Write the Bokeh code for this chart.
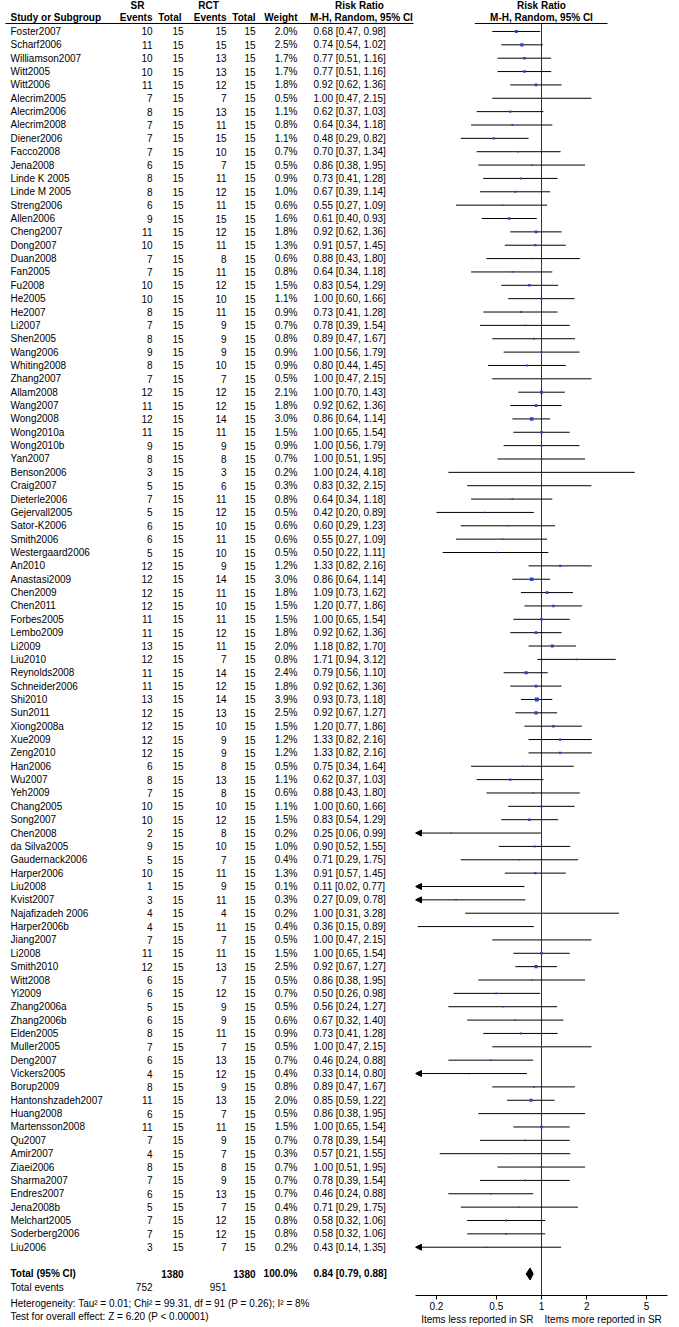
import numpy as np
from bokeh.plotting import figure
from bokeh.layouts import row
from bokeh.models import (Range1d, ColumnDataSource, FixedTicker, CustomJSTickFormatter,
                          Arrow, NormalHead, Title)
from bokeh.core.properties import value
from bokeh.embed import file_html
from bokeh.resources import INLINE

# ---------------- data ----------------
studies = ["Foster2007", "Scharf2006", "Williamson2007", "Witt2005", "Witt2006", "Alecrim2005",
           "Alecrim2006", "Alecrim2008", "Diener2006", "Facco2008", "Jena2008", "Linde K 2005",
           "Linde M 2005", "Streng2006", "Allen2006", "Cheng2007", "Dong2007", "Duan2008",
           "Fan2005", "Fu2008", "He2005", "He2007", "Li2007", "Shen2005", "Wang2006",
           "Whiting2008", "Zhang2007", "Allam2008", "Wang2007", "Wong2008", "Wong2010a",
           "Wong2010b", "Yan2007", "Benson2006", "Craig2007", "Dieterle2006", "Gejervall2005",
           "Sator-K2006", "Smith2006", "Westergaard2006", "An2010", "Anastasi2009", "Chen2009",
           "Chen2011", "Forbes2005", "Lembo2009", "Li2009", "Liu2010", "Reynolds2008",
           "Schneider2006", "Shi2010", "Sun2011", "Xiong2008a", "Xue2009", "Zeng2010", "Han2006",
           "Wu2007", "Yeh2009", "Chang2005", "Song2007", "Chen2008", "da Silva2005",
           "Gaudernack2006", "Harper2006", "Liu2008", "Kvist2007", "Najafizadeh 2006",
           "Harper2006b", "Jiang2007", "Li2008", "Smith2010", "Witt2008", "Yi2009", "Zhang2006a",
           "Zhang2006b", "Elden2005", "Muller2005", "Deng2007", "Vickers2005", "Borup2009",
           "Hantonshzadeh2007", "Huang2008", "Martensson2008", "Qu2007", "Amir2007", "Ziaei2006",
           "Sharma2007", "Endres2007", "Jena2008b", "Melchart2005", "Soderberg2006", "Liu2006"]

sr_events = [10, 11, 10, 10, 11, 7, 8, 7, 7, 7,
             6, 8, 8, 6, 9, 11, 10, 7, 7, 10,
             10, 8, 7, 8, 9, 8, 7, 12, 11, 12,
             11, 9, 8, 3, 5, 7, 5, 6, 6, 5,
             12, 12, 12, 12, 11, 11, 13, 12, 11, 11,
             13, 12, 12, 12, 12, 6, 8, 7, 10, 10,
             2, 9, 5, 10, 1, 3, 4, 4, 7, 11,
             12, 6, 6, 5, 6, 8, 7, 6, 4, 8,
             11, 6, 11, 7, 4, 8, 7, 6, 5, 7, 7, 3]
sr_total = [15, 15, 15, 15, 15, 15, 15, 15, 15, 15,
            15, 15, 15, 15, 15, 15, 15, 15, 15, 15,
            15, 15, 15, 15, 15, 15, 15, 15, 15, 15,
            15, 15, 15, 15, 15, 15, 15, 15, 15, 15,
            15, 15, 15, 15, 15, 15, 15, 15, 15, 15,
            15, 15, 15, 15, 15, 15, 15, 15, 15, 15,
            15, 15, 15, 15, 15, 15, 15, 15, 15, 15,
            15, 15, 15, 15, 15, 15, 15, 15, 15, 15,
            15, 15, 15, 15, 15, 15, 15, 15, 15, 15, 15, 15]
rct_events = [15, 15, 13, 13, 12, 7, 13, 11, 15, 10,
              7, 11, 12, 11, 15, 12, 11, 8, 11, 12,
              10, 11, 9, 9, 9, 10, 7, 12, 12, 14,
              11, 9, 8, 3, 6, 11, 12, 10, 11, 10,
              9, 14, 11, 10, 11, 12, 11, 7, 14, 12,
              14, 13, 10, 9, 9, 8, 13, 8, 10, 12,
              8, 10, 7, 11, 9, 11, 4, 11, 7, 11,
              13, 7, 12, 9, 9, 11, 7, 13, 12, 9,
              13, 7, 11, 9, 7, 8, 9, 13, 7, 12, 12, 7]
rct_total = [15, 15, 15, 15, 15, 15, 15, 15, 15, 15,
             15, 15, 15, 15, 15, 15, 15, 15, 15, 15,
             15, 15, 15, 15, 15, 15, 15, 15, 15, 15,
             15, 15, 15, 15, 15, 15, 15, 15, 15, 15,
             15, 15, 15, 15, 15, 15, 15, 15, 15, 15,
             15, 15, 15, 15, 15, 15, 15, 15, 15, 15,
             15, 15, 15, 15, 15, 15, 15, 15, 15, 15,
             15, 15, 15, 15, 15, 15, 15, 15, 15, 15,
             15, 15, 15, 15, 15, 15, 15, 15, 15, 15, 15, 15]
weight_pct = [2.0, 2.5, 1.7, 1.7, 1.8, 0.5, 1.1, 0.8, 1.1, 0.7,
              0.5, 0.9, 1.0, 0.6, 1.6, 1.8, 1.3, 0.6, 0.8, 1.5,
              1.1, 0.9, 0.7, 0.8, 0.9, 0.9, 0.5, 2.1, 1.8, 3.0,
              1.5, 0.9, 0.7, 0.2, 0.3, 0.8, 0.5, 0.6, 0.6, 0.5,
              1.2, 3.0, 1.8, 1.5, 1.5, 1.8, 2.0, 0.8, 2.4, 1.8,
              3.9, 2.5, 1.5, 1.2, 1.2, 0.5, 1.1, 0.6, 1.1, 1.5,
              0.2, 1.0, 0.4, 1.3, 0.1, 0.3, 0.2, 0.4, 0.5, 1.5,
              2.5, 0.5, 0.7, 0.5, 0.6, 0.9, 0.5, 0.7, 0.4, 0.8,
              2.0, 0.5, 1.5, 0.7, 0.3, 0.7, 0.7, 0.7, 0.4, 0.8, 0.8, 0.2]
risk_ratio = [0.68, 0.74, 0.77, 0.77, 0.92, 1.00, 0.62, 0.64, 0.48, 0.70,
              0.86, 0.73, 0.67, 0.55, 0.61, 0.92, 0.91, 0.88, 0.64, 0.83,
              1.00, 0.73, 0.78, 0.89, 1.00, 0.80, 1.00, 1.00, 0.92, 0.86,
              1.00, 1.00, 1.00, 1.00, 0.83, 0.64, 0.42, 0.60, 0.55, 0.50,
              1.33, 0.86, 1.09, 1.20, 1.00, 0.92, 1.18, 1.71, 0.79, 0.92,
              0.93, 0.92, 1.20, 1.33, 1.33, 0.75, 0.62, 0.88, 1.00, 0.83,
              0.25, 0.90, 0.71, 0.91, 0.11, 0.27, 1.00, 0.36, 1.00, 1.00,
              0.92, 0.86, 0.50, 0.56, 0.67, 0.73, 1.00, 0.46, 0.33, 0.89,
              0.85, 0.86, 1.00, 0.78, 0.57, 1.00, 0.78, 0.46, 0.71, 0.58, 0.58, 0.43]
ci_lower = [0.47, 0.54, 0.51, 0.51, 0.62, 0.47, 0.37, 0.34, 0.29, 0.37,
            0.38, 0.41, 0.39, 0.27, 0.40, 0.62, 0.57, 0.43, 0.34, 0.54,
            0.60, 0.41, 0.39, 0.47, 0.56, 0.44, 0.47, 0.70, 0.62, 0.64,
            0.65, 0.56, 0.51, 0.24, 0.32, 0.34, 0.20, 0.29, 0.27, 0.22,
            0.82, 0.64, 0.73, 0.77, 0.65, 0.62, 0.82, 0.94, 0.56, 0.62,
            0.73, 0.67, 0.77, 0.82, 0.82, 0.34, 0.37, 0.43, 0.60, 0.54,
            0.06, 0.52, 0.29, 0.57, 0.02, 0.09, 0.31, 0.15, 0.47, 0.65,
            0.67, 0.38, 0.26, 0.24, 0.32, 0.41, 0.47, 0.24, 0.14, 0.47,
            0.59, 0.38, 0.65, 0.39, 0.21, 0.51, 0.39, 0.24, 0.29, 0.32, 0.32, 0.14]
ci_upper = [0.98, 1.02, 1.16, 1.16, 1.36, 2.15, 1.03, 1.18, 0.82, 1.34,
            1.95, 1.28, 1.14, 1.09, 0.93, 1.36, 1.45, 1.80, 1.18, 1.29,
            1.66, 1.28, 1.54, 1.67, 1.79, 1.45, 2.15, 1.43, 1.36, 1.14,
            1.54, 1.79, 1.95, 4.18, 2.15, 1.18, 0.89, 1.23, 1.09, 1.11,
            2.16, 1.14, 1.62, 1.86, 1.54, 1.36, 1.70, 3.12, 1.10, 1.36,
            1.18, 1.27, 1.86, 2.16, 2.16, 1.64, 1.03, 1.80, 1.66, 1.29,
            0.99, 1.55, 1.75, 1.45, 0.77, 0.78, 3.28, 0.89, 2.15, 1.54,
            1.27, 1.95, 0.98, 1.27, 1.40, 1.28, 2.15, 0.88, 0.80, 1.67,
            1.22, 1.95, 1.54, 1.54, 1.55, 1.95, 1.54, 0.88, 1.75, 1.06, 1.06, 1.35]

total_sr = 1380
total_rct = 1380
total_weight = 100.0
pooled_rr = 0.84
pooled_lower = 0.79
pooled_upper = 0.88
events_sr = 752
events_rct = 951
heterogeneity_text = "Heterogeneity: Tau\u00b2 = 0.01; Chi\u00b2 = 99.31, df = 91 (P = 0.26); I\u00b2 = 8%"
overall_text = "Test for overall effect: Z = 6.20 (P < 0.00001)"
axis_ticks = [0.2, 0.5, 1, 2, 5]
favours_left = "Items less reported in SR"
favours_right = "Items more reported in SR"
null_value = 1.0

# ---------------- layout (page pixels) ----------------
PAGE_W, PAGE_H = 679, 1327
LEFT_W = 415
H1_Y, H2_Y, ULINE_Y = 5.5, 17, 23
ROW0_Y, ROW_H = 31, 13.37
n = len(studies)
row_y = ROW0_Y + np.arange(n) * ROW_H
TOTAL_Y = row_y[-1] + 2 * ROW_H
EVENTS_Y = TOTAL_Y + 13.5
AXIS_Y = 1296
BOTTOM_BORDER = PAGE_H - AXIS_Y
FRAME_L, FRAME_R = 415, 667          # page x of forest frame
RR_LO, RR_HI = 0.145, 1 / 0.145

FONT = value("Liberation Sans")
FS = "10px"
TXT = "#000000"

def txt(p, x, y, t, align="left", bold=False, src=None):
    kw = dict(text_align=align, text_baseline="middle", text_font=FONT,
              text_font_size=FS, text_color=TXT,
              text_font_style="bold" if bold else "normal")
    if src is not None:
        p.text(x=x, y=y, text=t, source=src, **kw)
    else:
        p.text(x=[x], y=[y], text=[t], **kw)

shared_y = Range1d(AXIS_Y, 0)

# ---------------- left: table ----------------
p1 = figure(width=LEFT_W, height=PAGE_H, x_range=Range1d(0, LEFT_W),
            y_range=shared_y, output_backend="svg", toolbar_location=None,
            x_axis_location=None, y_axis_location=None, min_border_left=0,
            min_border_right=0, min_border_top=0, min_border_bottom=BOTTOM_BORDER,
            outline_line_color=None, background_fill_color="white",
            border_fill_color="white")
p1.grid.visible = False

src = ColumnDataSource(dict(
    y=row_y, study=studies,
    sre=[str(v) for v in sr_events], srt=[str(v) for v in sr_total],
    rce=[str(v) for v in rct_events], rct=[str(v) for v in rct_total],
    w=["%.1f%%" % v for v in weight_pct],
    rr=["%.2f [%.2f, %.2f]" % t for t in zip(risk_ratio, ci_lower, ci_upper)],
))
X_NAME, X_SRE, X_SRT, X_RCE, X_RCT, X_W, X_RR = 10, 152, 183, 226, 255, 297, 313
txt(p1, X_NAME, "y", "study", src=src)
txt(p1, X_SRE, "y", "sre", "right", src=src)
txt(p1, X_SRT, "y", "srt", "right", src=src)
txt(p1, X_RCE, "y", "rce", "right", src=src)
txt(p1, X_RCT, "y", "rct", "right", src=src)
txt(p1, X_W, "y", "w", "right", src=src)
txt(p1, X_RR, "y", "rr", src=src)

# headers
txt(p1, 137, H1_Y, "SR", "center", True)
txt(p1, 208, H1_Y, "RCT", "center", True)
txt(p1, 359, H1_Y, "Risk Ratio", "center", True)
txt(p1, X_NAME, H2_Y, "Study or Subgroup", "left", True)
txt(p1, X_SRE, H2_Y, "Events", "right", True)
txt(p1, X_SRT - 2, H2_Y, "Total", "right", True)
txt(p1, X_RCE, H2_Y, "Events", "right", True)
txt(p1, X_RCT, H2_Y, "Total", "right", True)
txt(p1, X_W, H2_Y, "Weight", "right", True)
txt(p1, 361, H2_Y, "M-H, Random, 95% CI", "center", True)
p1.segment(x0=[5], x1=[413], y0=[ULINE_Y], y1=[ULINE_Y], line_color="black", line_width=1)

# footer
txt(p1, X_NAME, TOTAL_Y, "Total (95% CI)", "left", True)
txt(p1, X_SRT, TOTAL_Y, str(total_sr), "right", True)
txt(p1, X_RCT, TOTAL_Y, str(total_rct), "right", True)
txt(p1, X_W, TOTAL_Y, "%.1f%%" % total_weight, "right", True)
txt(p1, X_RR, TOTAL_Y, "%.2f [%.2f, %.2f]" % (pooled_rr, pooled_lower, pooled_upper), "left", True)
txt(p1, X_NAME, EVENTS_Y, "Total events")
txt(p1, X_SRE, EVENTS_Y, str(events_sr), "right")
txt(p1, X_RCE, EVENTS_Y, str(events_rct), "right")
for t in (heterogeneity_text, overall_text):
    p1.add_layout(Title(text=t, align="left", offset=X_NAME, standoff=0,
                        text_font="Liberation Sans", text_font_size=FS,
                        text_font_style="normal", text_color=TXT), "below")

# ---------------- right: forest ----------------
p2 = figure(width=PAGE_W - LEFT_W, height=PAGE_H, x_axis_type="log",
            x_range=Range1d(RR_LO, RR_HI), y_range=shared_y,
            output_backend="svg", toolbar_location=None, y_axis_location=None,
            min_border_left=FRAME_L - LEFT_W, min_border_right=PAGE_W - FRAME_R,
            min_border_top=0, min_border_bottom=BOTTOM_BORDER, outline_line_color=None,
            background_fill_color="white", border_fill_color="white")
p2.grid.visible = False

# null line
p2.segment(x0=[null_value], x1=[null_value], y0=[ULINE_Y], y1=[AXIS_Y],
           line_color="#333333", line_width=1)

lo = np.array(ci_lower)
hi = np.array(ci_upper)
inside = lo >= RR_LO
ci_src = ColumnDataSource(dict(x0=lo[inside], x1=hi[inside], y=row_y[inside]))
p2.segment(x0="x0", x1="x1", y0="y", y1="y", source=ci_src, line_color="black", line_width=1)
arr_src = ColumnDataSource(dict(x0=hi[~inside], x1=np.full((~inside).sum(), RR_LO), y=row_y[~inside]))
p2.add_layout(Arrow(end=NormalHead(size=6, fill_color="black", line_color="black"),
                    x_start="x0", y_start="y", x_end="x1", y_end="y",
                    source=arr_src, line_color="black", line_width=1))

sq_src = ColumnDataSource(dict(x=risk_ratio, y=row_y, s=2.0 * np.sqrt(weight_pct)))
p2.scatter(x="x", y="y", size="s", marker="square", source=sq_src,
           fill_color="#2b3fc8", line_color=None)

DH = 6
p2.patch(x=[pooled_lower, pooled_rr, pooled_upper, pooled_rr],
         y=[TOTAL_Y, TOTAL_Y - DH, TOTAL_Y, TOTAL_Y + DH], fill_color="black", line_color="black")

txt(p2, null_value, H1_Y, "Risk Ratio", "center", True)
txt(p2, null_value, H2_Y, "M-H, Random, 95% CI", "center", True)
p2.segment(x0=[0.36], x1=[2.75], y0=[ULINE_Y], y1=[ULINE_Y], line_color="black", line_width=1)

ax = p2.xaxis[0]
ax.ticker = FixedTicker(ticks=axis_ticks, minor_ticks=[])
ax.formatter = CustomJSTickFormatter(code="return tick.toString();")
ax.axis_line_color = "black"
ax.major_tick_line_color = "black"
ax.major_tick_out = 4
ax.major_tick_in = 0
ax.minor_tick_out = 0
ax.minor_tick_in = 0
ax.major_label_standoff = 2
ax.major_label_text_font = "Liberation Sans"
ax.major_label_text_font_size = FS
ax.major_label_text_color = TXT
ax.axis_label = favours_left + "\u00a0\u00a0\u00a0\u00a0" + favours_right
ax.axis_label_standoff = 1
ax.axis_label_text_font = "Liberation Sans"
ax.axis_label_text_font_size = FS
ax.axis_label_text_font_style = "normal"
ax.axis_label_text_color = TXT

layout = row(p1, p2)
open("out.html", "w").write(file_html(layout, INLINE))
